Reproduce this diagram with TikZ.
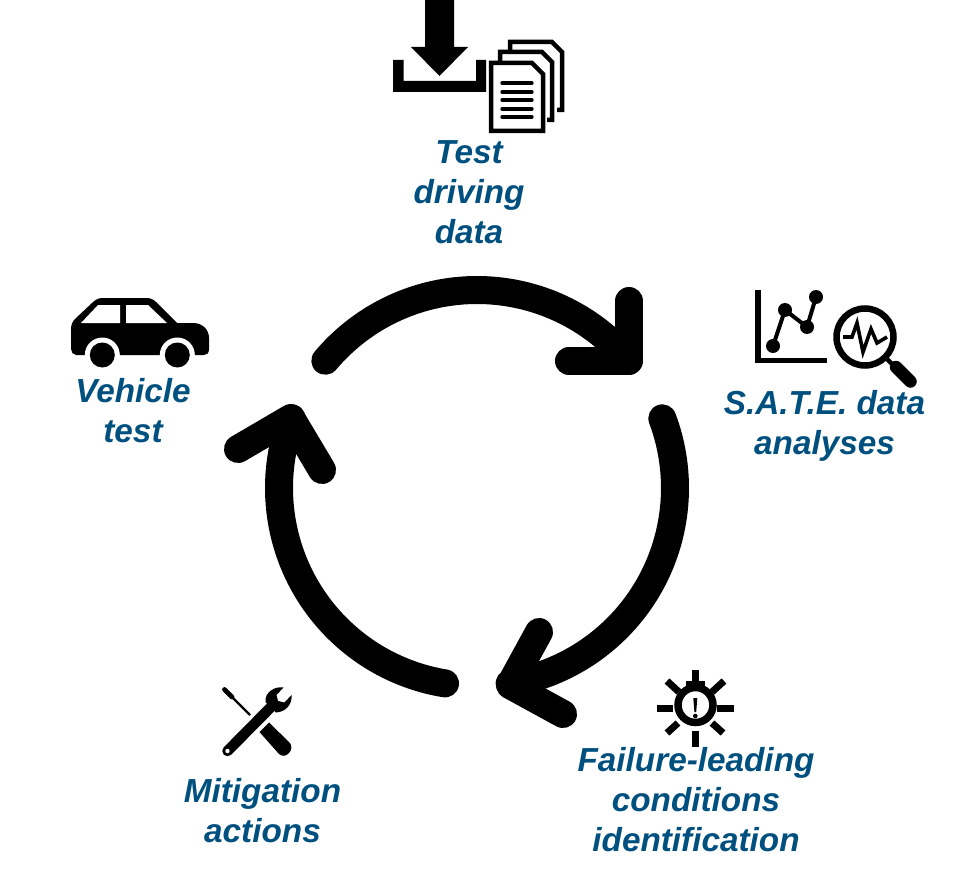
\documentclass[tikz,border=0pt]{standalone}
\usepackage{fontspec}
\setmainfont{Liberation Sans}
\definecolor{labelblue}{HTML}{00507F}
\tikzset{
  lbl/.style={font=\fontsize{33.3}{40}\selectfont\bfseries\itshape,text=labelblue,align=center,inner sep=0pt},
  loopline/.style={draw=black,line width=28pt,line cap=round,line join=round},
  ink/.style={draw=black,line join=miter},
  paper/.style={draw=black,fill=white,line width=4.5pt,line join=miter}
}
\begin{document}
\begin{tikzpicture}[x=1pt,y=-1pt]
\useasboundingbox (0,0) rectangle (954,880);
% labels
\node[lbl] (testdata) at (469,192) {Test\\driving\\data};
\node[lbl] (sate) at (824.5,426) {S.A.T.E. data\\analyses};
\node[lbl] (failure) at (696,800) {Failure-leading\\conditions\\identification};
\node[lbl] (mitigation) at (262.5,811) {Mitigation\\actions};
\node[lbl] (vehicle) at (133,411) {Vehicle\\test};
% loop arrows
\coordinate (tipA) at (629,361);
\coordinate (tipB) at (510,685);
\coordinate (tipC) at (291,418);
\draw[loopline] plot[domain=140:40,samples=50,smooth] ({477+198*cos(\x)},{488-198*sin(\x)});
\draw[loopline] (629,301) -- (tipA) -- (569,361);
\draw[loopline] plot[domain=20.6:-80.5,samples=50,smooth] ({477+198*cos(\x)},{488-198*sin(\x)});
\draw[loopline] (539,632) -- (tipB) -- (563,714);
\draw[loopline] plot[domain=260.7:159.4,samples=50,smooth] ({477+198*cos(\x)},{488-198*sin(\x)});
\draw[loopline] (238,449) -- (tipC) -- (322,470);
% download icon
\fill (425,0) -- (454,0) -- (454,47) -- (468,47) -- (439.5,76) -- (411,47) -- (425,47) -- cycle;
\fill (393,60) -- (403.5,60) -- (403.5,81) -- (476,81) -- (476,60) -- (486,60) -- (486,92) -- (393,92) -- cycle;
% documents icon
\draw[ink,line width=4.5pt] (510,50) -- (510,42) -- (552,42) -- (562,52) -- (562,110) -- (557,110);
\draw[ink,line width=4.5pt] (500,61) -- (500,52) -- (542,52) -- (552,62) -- (552,120) -- (547,120);
\draw[paper] (491,63) -- (532,63) -- (543,74) -- (543,131) -- (491,131) -- cycle;
\foreach \yy in {83,92,100,109,117}
  \draw[ink,line width=3.2pt,line cap=round] (502,\yy) -- (532,\yy);
% chart icon
\draw[ink,line width=5.5pt] (758,290) -- (758,360.5) -- (827,360.5);
\draw[ink,line width=4pt] (773,346) -- (785,310) -- (807,327) -- (816,297);
\foreach \px/\py in {773/346,785/310,807/327,816/297}
  \fill (\px,\py) circle (7pt);
% magnifier
\draw[ink,line width=6.5pt] (865,337) circle (28.5pt);
\draw[ink,line width=4.5pt] (885,357) -- (897,369);
\draw[ink,line width=12.5pt,line cap=round] (896,367) -- (910.5,381.5);
\draw[ink,line width=3.6pt] (843,337) -- (852,337) -- (857,323) -- (863,352) -- (871,329) -- (877,343) -- (887,337);
% warning sun icon
\draw[ink,line width=7.5pt] (695.5,705) circle (17.5pt);
\fill (686,681) rectangle (705,691);
\draw[ink,line width=7pt] (695.5,670) -- (695.5,682);
\draw[ink,line width=7pt] (695.5,731) -- (695.5,747);
\draw[ink,line width=7pt] (657,708) -- (673,708);
\draw[ink,line width=7pt] (717,708) -- (734,708);
\draw[ink,line width=7pt] (667,681) -- (679,692);
\draw[ink,line width=7pt] (724,681) -- (712,692);
\draw[ink,line width=7pt] (667,733) -- (678,723);
\draw[ink,line width=7pt] (712,723) -- (723,733);
\fill (693.3,698) -- (697.3,698) -- (696.2,712) -- (694.4,712) -- cycle;
\fill (695.3,716) circle (2.3pt);
% tools icon
\draw[ink,line width=4.8pt,line cap=round] (224.5,689.5) -- (232,697);
\draw[ink,line width=2.4pt] (230,695) -- (250,715);
\fill (259.5,732) -- (269,722.5) -- (290,743) .. controls (292,746) and (292,750) .. (289,753) .. controls (286,756.5) and (282,756.5) .. (279,754) -- cycle;
\draw[ink,line width=10.5pt,line cap=round] (227.5,751) -- (272,706);
\fill (265.5,702) .. controls (264.5,692) and (275,686) .. (283.5,687.5) -- (276.5,695) -- (278,701) -- (284.5,702.5) -- (291.5,695) .. controls (292.5,704) and (286,712) .. (276,712.5) -- cycle;
\fill[white] (227.5,751) circle (2.2pt);
% car icon
\fill (71,330) .. controls (71,325) and (72,322) .. (75,319) -- (92,303) .. controls (96,299) and (99,298) .. (103,298) -- (146,298) .. controls (150,298) and (153,299) .. (156,302) -- (177,323) -- (193,323) .. controls (203,323) and (209,330) .. (209,338) -- (209,349) .. controls (209,353) and (207,355) .. (204,355) -- (76,355) .. controls (73,355) and (71,352) .. (71,349) -- cycle;
\fill[white] (81,323) -- (98,305) -- (120,305) -- (120,323) -- cycle;
\fill[white] (126,305) -- (148,305) -- (167,323) -- (126,323) -- cycle;
\foreach \wx in {102.3,177.3} {
  \fill[white] (\wx,355) circle (17.5pt);
  \fill (\wx,355) circle (12.5pt);
}
\end{tikzpicture}
\end{document}
